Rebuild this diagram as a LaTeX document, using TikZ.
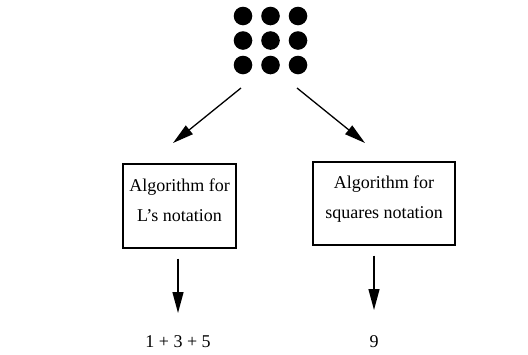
\documentclass[tikz,border=0pt]{standalone}
\usepackage{fontspec}
\setmainfont{Liberation Serif}
\usepackage{tikz}
\usetikzlibrary{arrows.meta, positioning}

\tikzset{
  algbox/.style={draw, line width=1.2pt, align=center, text depth=12pt, font=\fontsize{18}{30}\selectfont},
  outtext/.style={font=\fontsize{18}{22}\selectfont},
  flow/.style={line width=1.3pt, -{Triangle[length=21pt,width=11pt]}}
}

\begin{document}
\begin{tikzpicture}[x=1pt, y=-1pt]

  \useasboundingbox (0,0) rectangle (528,354);

  % Dot array
  \foreach \i in {0,1,2}{
    \foreach \j in {0,1,2}{
      \fill ({243+27.5*\i},{16+24.5*\j}) circle (9.3);
    }
  }
  \coordinate (dotsL) at (241,88);
  \coordinate (dotsR) at (297,88);

  % Algorithms
  \node[algbox, minimum width=113, minimum height=84] (lalg) at (179.5,206) {Algorithm for\\L's notation};
  \node[algbox, minimum width=142, minimum height=83] (salg) at (384,203.5) {Algorithm for\\squares notation};
  \coordinate (lalgin) at (173,143);
  \coordinate (salgin) at (365,143);

  \draw[flow] (dotsL) -- (lalgin);
  \draw[flow] (dotsR) -- (salgin);

  % Results
  \node[outtext] (lsum) at (178,342) {1 + 3 + 5};
  \node[outtext] (ssum) at (374,342) {9};
  \coordinate (lsumin) at (178,313);
  \coordinate (ssumin) at (374,310);

  \draw[flow] (lalg.south -| lsumin) ++(0,10) -- (lsumin);
  \draw[flow] (salg.south -| ssumin) ++(0,10) -- (ssumin);

\end{tikzpicture}
\end{document}
